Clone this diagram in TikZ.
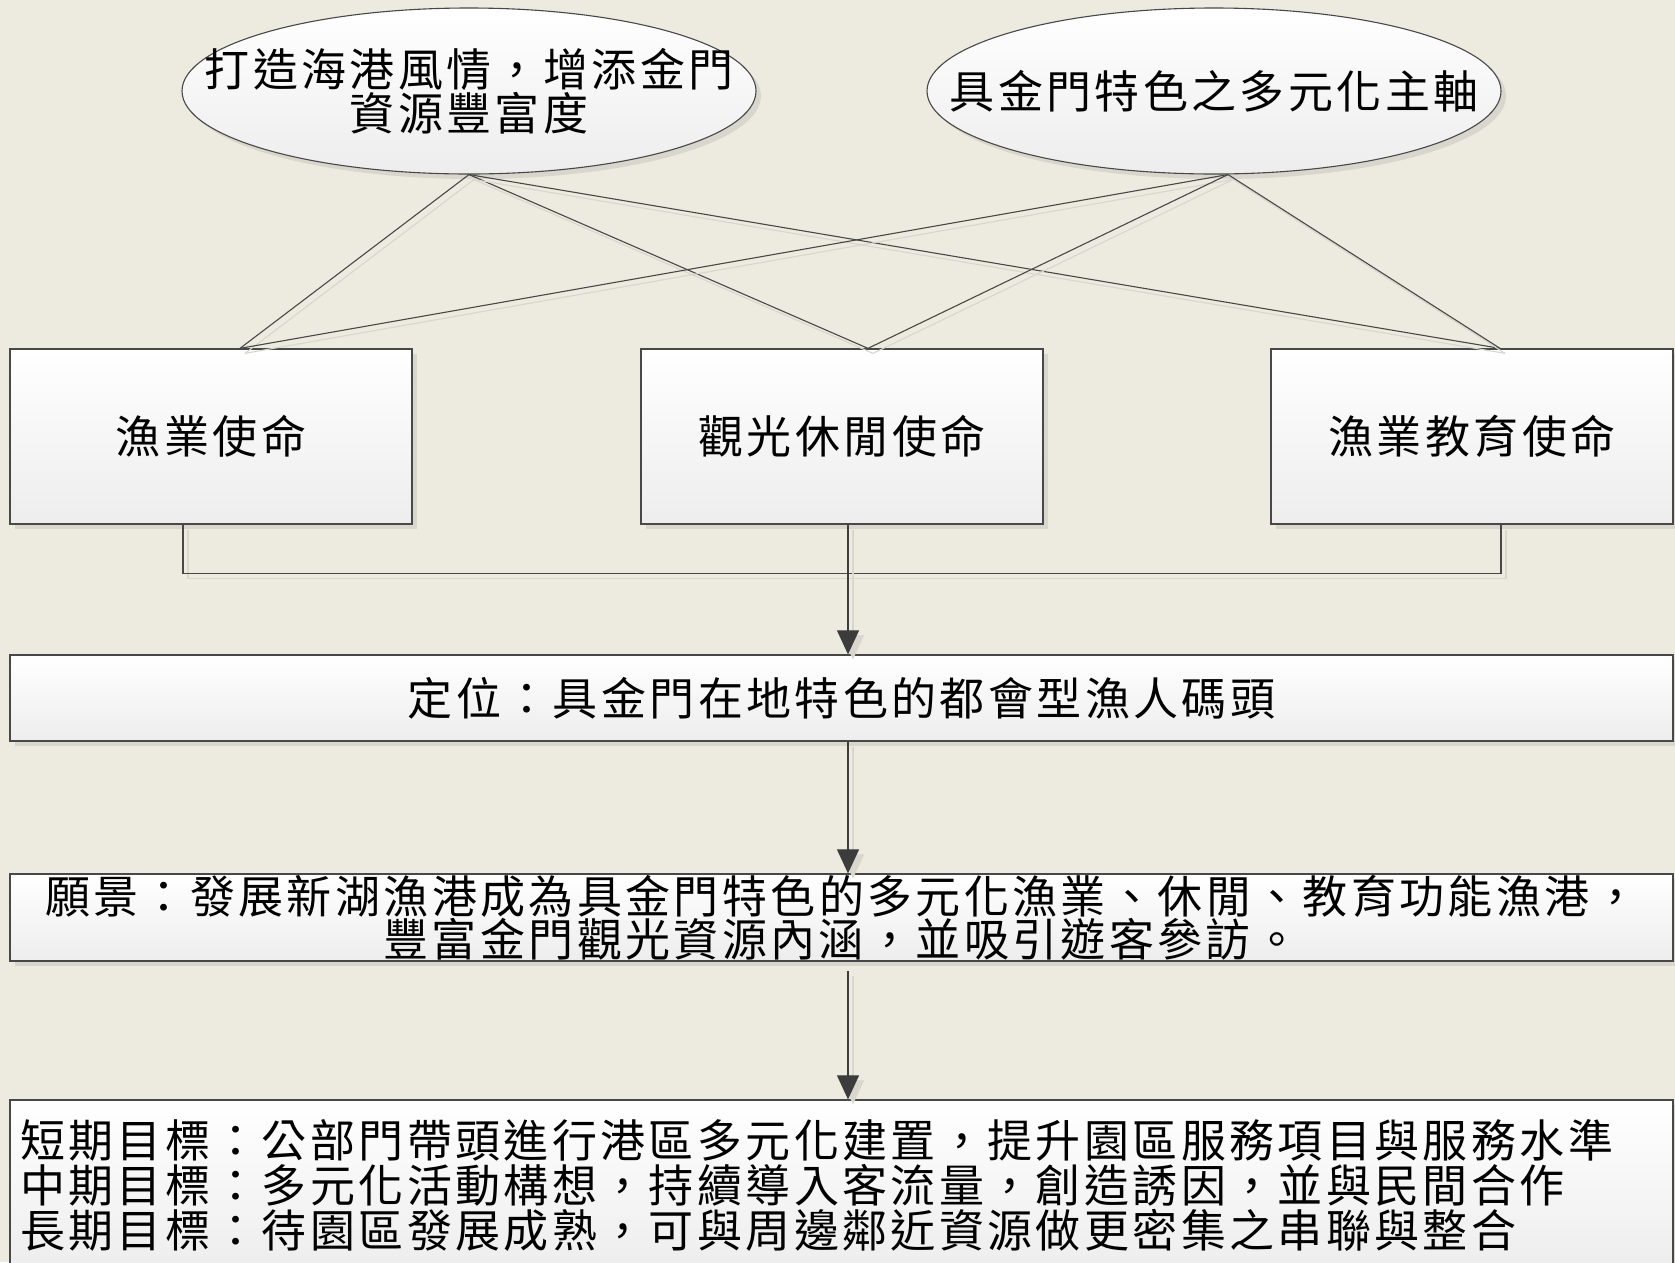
\documentclass[tikz,border=0pt]{standalone}
\usepackage{fontspec}
\setmainfont{Noto Sans CJK TC}[LetterSpace=7.5]
\usetikzlibrary{shapes.geometric,arrows.meta,calc,shadows}
\definecolor{bgc}{RGB}{237,234,224}
\definecolor{linec}{RGB}{72,72,72}
\definecolor{gradc}{RGB}{237,237,237}
\definecolor{shadc}{RGB}{216,214,205}
\definecolor{tipc}{RGB}{60,60,60}
\tikzset{
  shapebox/.style={draw=linec, line width=1.3pt, top color=white, bottom color=gradc,
    inner sep=0pt, general shadow={fill=shadc, shadow xshift=5pt, shadow yshift=-5pt}},
  missionbox/.style={shapebox, rectangle, minimum width=402pt, minimum height=175pt,
    font=\fontsize{45}{44}\selectfont},
  widebox/.style={shapebox, rectangle, minimum width=1663pt, align=center,
    font=\fontsize{45}{42}\selectfont},
  axis/.style={shapebox, ellipse, line width=1.1pt, minimum width=574pt, minimum height=166pt},
  axistext/.style={align=center, inner sep=0pt, font=\fontsize{45}{44}\selectfont},
  conn/.style={draw=linec, line width=1.1pt,
    preaction={draw=shadc, line width=1.1pt, transform canvas={shift={(5pt,-5pt)}}}},
  arr/.style={conn, -{Triangle[width=22pt,length=24pt]}, color=tipc},
}
\begin{document}
\begin{tikzpicture}[x=1pt,y=-1pt]
\fill[bgc] (0,0) rectangle (1675,1262);
\useasboundingbox (0,0) rectangle (1675,1262);

% ellipses
\node[axis] (e1) at (469,91) {};
\node[axistext] (t1) at (e1.center) {打造海港風情，增添金門\\資源豐富度};
\node[axis] (e2) at (1214,91) {};
\node[axistext] (t2) at (e2.center) {具金門特色之多元化主軸};

% mission boxes
\node[missionbox] (b1) at (211,436.5) {漁業使命};
\node[missionbox] (b2) at (842,436.5) {觀光休閒使命};
\node[missionbox] (b3) at (1472,436.5) {漁業教育使命};

% wide boxes
\node[widebox, minimum height=86pt] (pos) at (841.5,698) {定位：具金門在地特色的都會型漁人碼頭};
\node[widebox, minimum height=87pt] (vis) at (841.5,917.5)
  {願景：發展新湖漁港成為具金門特色的多元化漁業、休閒、教育功能漁港，\\豐富金門觀光資源內涵，並吸引遊客參訪。};
\node[shapebox, rectangle, minimum width=1663pt, minimum height=170pt, text width=1643pt,
  inner xsep=10pt, align=left, font=\fontsize{45}{45}\selectfont] (goal) at (841.5,1185)
  {短期目標：公部門帶頭進行港區多元化建置，提升園區服務項目與服務水準\\
   中期目標：多元化活動構想，持續導入客流量，創造誘因，並與民間合作\\
   長期目標：待園區發展成熟，可與周邊鄰近資源做更密集之串聯與整合};

% connection points
\coordinate (p1) at ($(b1.north)+(29,0)$);
\coordinate (p2) at ($(b2.north)+(26,0)$);
\coordinate (p3) at ($(b3.north)+(28,0)$);
\coordinate (q2) at ($(e2.south)+(14,0)$);

% cross connectors
\draw[conn] (e1.south) -- (p1);
\draw[conn] (e1.south) -- (p2);
\draw[conn] (e1.south) -- (p3);
\draw[conn] (q2) -- (p1);
\draw[conn] (q2) -- (p2);
\draw[conn] (q2) -- (p3);

% bottom bracket
\coordinate (s1) at ($(b1.south)+(-28,0)$);
\coordinate (s3) at ($(b3.south)+(29,0)$);
\coordinate (s2) at ($(b2.south)+(6,0)$);
\draw[conn] (s1) -- ++(0,49) -| (s3);

% arrows
\draw[arr] (s2) -- (s2 |- pos.north);
\draw[arr] (s2 |- pos.south) -- (s2 |- vis.north);
\coordinate (v2) at ($(s2 |- vis.south)+(0,9)$);
\draw[arr] (v2) -- (s2 |- goal.north);
\end{tikzpicture}
\end{document}
